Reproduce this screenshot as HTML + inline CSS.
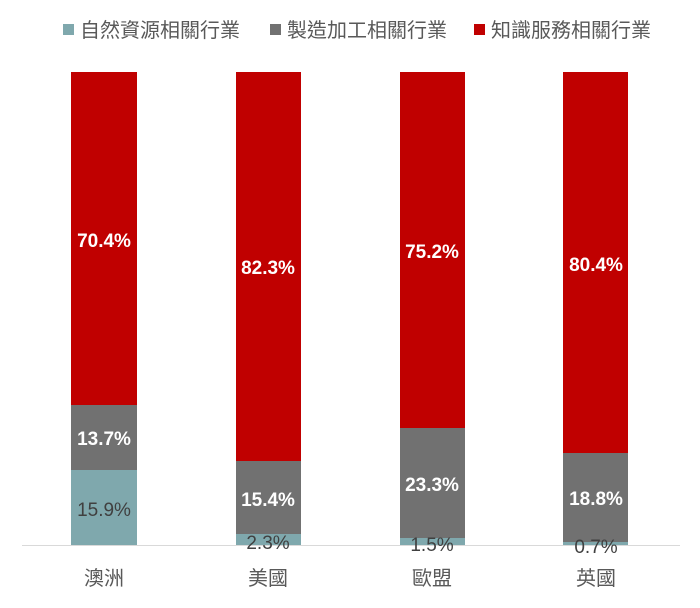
<!DOCTYPE html>
<html><head><meta charset="utf-8"><style>
html,body{margin:0;padding:0;background:#fff;}
svg{display:block;font-family:"Liberation Sans","Noto Sans CJK TC",sans-serif;}
</style></head><body>
<svg width="700" height="608" viewBox="0 0 700 608">
<g font-size="20" fill="#595959">
<rect x="63" y="24" width="11" height="11" fill="#7FA8AD"/><text x="80" y="37">自然資源相關行業</text>
<rect x="270" y="24" width="11" height="11" fill="#717171"/><text x="287" y="37">製造加工相關行業</text>
<rect x="474" y="24" width="11" height="11" fill="#C00000"/><text x="491" y="37">知識服務相關行業</text>
</g>
<!-- Australia -->
<rect x="71" y="72" width="66" height="333" fill="#C00000"/>
<rect x="71" y="405" width="66" height="65" fill="#717171"/>
<rect x="71" y="470" width="66" height="75" fill="#7FA8AD"/>
<!-- US -->
<rect x="236" y="72" width="65" height="389" fill="#C00000"/>
<rect x="236" y="461" width="65" height="73" fill="#717171"/>
<rect x="236" y="534" width="65" height="11" fill="#7FA8AD"/>
<!-- EU -->
<rect x="400" y="72" width="65" height="356" fill="#C00000"/>
<rect x="400" y="428" width="65" height="110" fill="#717171"/>
<rect x="400" y="538" width="65" height="7" fill="#7FA8AD"/>
<!-- UK -->
<rect x="563" y="72" width="65" height="381" fill="#C00000"/>
<rect x="563" y="453" width="65" height="89" fill="#717171"/>
<rect x="563" y="542" width="65" height="3" fill="#7FA8AD"/>
<line x1="22" y1="545.5" x2="680" y2="545.5" stroke="#D9D9D9" stroke-width="1"/>
<g font-size="19" fill="#fff" font-weight="bold" text-anchor="middle">
<text x="104" y="247">70.4%</text>
<text x="104" y="445">13.7%</text>
<text x="268" y="274">82.3%</text>
<text x="268" y="506">15.4%</text>
<text x="432" y="258">75.2%</text>
<text x="432" y="491">23.3%</text>
<text x="596" y="271">80.4%</text>
<text x="596" y="505">18.8%</text>
</g>
<g font-size="19" fill="#404040" text-anchor="middle">
<text x="104" y="516">15.9%</text>
<text x="268" y="549">2.3%</text>
<text x="432" y="551">1.5%</text>
<text x="596" y="553">0.7%</text>
</g>
<g font-size="20" fill="#595959" text-anchor="middle">
<text x="104" y="585">澳洲</text>
<text x="268" y="585">美國</text>
<text x="432" y="585">歐盟</text>
<text x="596" y="585">英國</text>
</g>
</svg>
</body></html>
